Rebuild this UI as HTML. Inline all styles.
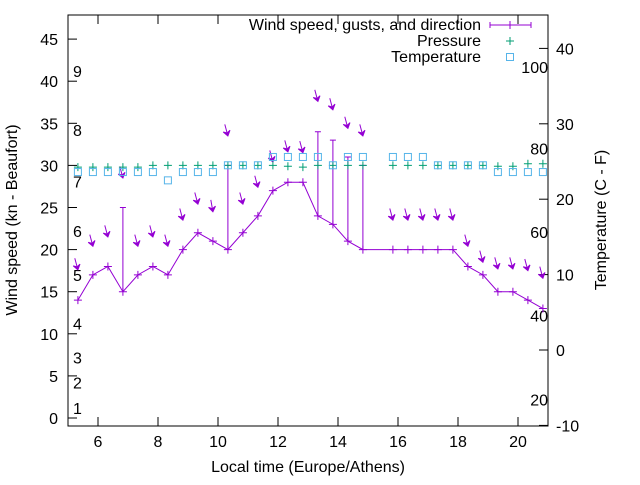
<!DOCTYPE html>
<html><head><meta charset="utf-8"><style>
body{margin:0;background:#fff}
svg text{font-family:"Liberation Sans",sans-serif;fill:#000}
</style></head><body>
<svg id="c" width="640" height="480" xmlns="http://www.w3.org/2000/svg">
<rect x="68" y="15" width="480" height="411" fill="none" stroke="#000"/>
<g id="axes"></g><g id="marks"></g>
<text x="17" y="220" font-size="16" text-anchor="middle" transform="rotate(-90 17 220)">Wind speed (kn - Beaufort)</text>
<text x="606" y="220" font-size="16" text-anchor="middle" transform="rotate(-90 606 220)">Temperature (C - F)</text>
<text x="308" y="472" font-size="16" text-anchor="middle">Local time (Europe/Athens)</text>
<g>
<text x="481" y="30" font-size="16" text-anchor="end">Wind speed, gusts, and direction</text>
<path d="M490 25H531M490 22V28M531 22V28M510 21V29" stroke="#9400d3" fill="none"/>
<text x="481" y="46" font-size="16" text-anchor="end">Pressure</text>
<path d="M506 41H514M510 37V45" stroke="#009e73"/>
<text x="481" y="62" font-size="16" text-anchor="end">Temperature</text>
<rect x="506.5" y="53.5" width="7" height="7" fill="none" stroke="#56b4e9"/>
</g>
</svg>
<script>
const times=[5.33,5.83,6.33,6.83,7.33,7.83,8.33,8.83,9.33,9.83,10.33,10.83,11.33,11.83,12.33,12.83,13.33,13.83,14.33,14.83,15.83,16.33,16.83,17.33,17.83,18.33,18.83,19.33,19.83,20.33,20.83];
const speed=[14,17,18,15,17,18,17,20,22,21,20,22,24,27,28,28,24,23,21,20,20,20,20,20,20,18,17,15,15,14,13];
const gust=[null,null,null,25,null,null,null,null,null,null,30,null,null,null,null,null,34,33,31,30,null,null,null,null,null,null,null,null,null,null,null];
const arrowPos=[17.6,20.4,21.5,28.5,20.4,21.5,20.4,23.5,25.4,24.5,33.5,25.4,27.4,30.4,31.6,31.5,37.6,36.6,34.4,33.5,23.5,23.5,23.5,23.5,23.5,20.4,18.5,17.7,17.7,17.5,16.6];
const direction=[345,345,345,345,345,345,345,345,345,350,345,345,345,345,345,345,345,345,345,345,345,345,345,345,345,345,345,345,345,345,345];
const pressure=[29.8,29.8,29.8,29.8,29.8,30,30,30,30,30,30,30,30,30,29.9,29.8,30,30,30,30,30,30,30,30,30,30,30,29.9,29.9,30.2,30.2];
const temperature=[23.6,23.6,23.6,23.6,23.6,23.6,22.5,23.6,23.6,23.6,24.5,24.5,24.5,25.6,25.6,25.6,25.6,24.5,25.6,25.6,25.6,25.6,25.6,24.5,24.5,24.5,24.5,23.6,23.6,23.6,23.6];
const yTicks=[0,5,10,15,20,25,30,35,40,45];
const xTicks=[6,8,10,12,14,16,18,20];
const tTicks=[-10,0,10,20,30,40];
const beaufortLabels=[[1,1.2],[2,4.2],[3,7.2],[4,11.2],[5,17],[6,22.2],[7,28.1],[8,34.2],[9,41.2]];
const fahrenheitLabels=[[20,2.2],[40,12.2],[60,22.1],[80,32],[100,41.7]];
const xs=t=>98+(t-6)*30, ys=v=>418-v*8.42, ts=T=>350-T*7.54;
const NS='http://www.w3.org/2000/svg';
const ax=document.getElementById('axes'), mk=document.getElementById('marks');
function el(p,tag,a){const e=document.createElementNS(NS,tag);for(const k in a)e.setAttribute(k,a[k]);p.appendChild(e);return e;}
yTicks.forEach(v=>{const y=ys(v);
 const l=el(ax,'path',{d:`M68 ${y}H77`,stroke:'#000'});
 
 
 const t=el(ax,'text',{x:58,y:y+6,'font-size':16,'text-anchor':'end'});t.textContent=v;
 
 });
xTicks.forEach(v=>{const x=xs(v);
 const l=el(ax,'path',{d:`M${x} 426V417M${x} 15V24`,stroke:'#000'});
 
 
 const t=el(ax,'text',{x:x,y:447,'font-size':16,'text-anchor':'middle'});t.textContent=v;
 
 });
tTicks.forEach(v=>{const y=ts(v);
 const l=el(ax,'path',{d:`M548 ${y}H539`,stroke:'#000'});
 
 
 const t=el(ax,'text',{x:556,y:y+6,'font-size':16});t.textContent=v;
 
 });
beaufortLabels.forEach(([n,v])=>{const t=el(ax,'text',{x:73,y:ys(v)+6,'font-size':16});t.textContent=n;
 
 });
fahrenheitLabels.forEach(([n,v])=>{const t=el(ax,'text',{x:548,y:ys(v)+6,'font-size':16,'text-anchor':'end'});t.textContent=n;
 
 });
const ln=el(mk,'polyline',{points:times.map((t,i)=>xs(t)+','+ys(speed[i])).join(' '),fill:'none',stroke:'#9400d3'});


times.forEach((t,i)=>{const x=xs(t),y=ys(speed[i]);
 const p=el(mk,'path',{d:`M${x-4} ${y}H${x+4}M${x} ${y-4}V${y+4}`,stroke:'#9400d3'});
 
 
 if(gust[i]!=null){const g=ys(gust[i]);
  const b=el(mk,'path',{d:`M${x} ${y}V${g}M${x-3} ${g}H${x+3}`,stroke:'#9400d3'});
  
  }
 const ay=ys(arrowPos[i]),a=direction[i]*Math.PI/180,L=12;
 const dx=-Math.sin(a),dy=Math.cos(a);
 const sx=x-dx*L,sy=ay-dy*L,px=-dy,py=dx;
 const g=el(mk,'g',{});
 
 
 el(g,'path',{d:`M${sx} ${sy}L${x} ${ay}`,stroke:'#9400d3'});
 el(g,'path',{d:`M${x} ${ay}L${x-dx*5+px*3.5} ${ay-dy*5+py*3.5}L${x-dx*3} ${ay-dy*3}L${x-dx*5-px*3.5} ${ay-dy*5-py*3.5}Z`,fill:'#9400d3',stroke:'#9400d3'});
 const py2=ys(pressure[i]);
 const pp=el(mk,'path',{d:`M${x-4} ${py2}H${x+4}M${x} ${py2-4}V${py2+4}`,stroke:'#009e73'});
 
 
 const ty=ts(temperature[i]);
 const r=el(mk,'rect',{x:x-3.5,y:ty-3.5,width:7,height:7,fill:'none',stroke:'#56b4e9'});
 
 
});
</script>
</body></html>
